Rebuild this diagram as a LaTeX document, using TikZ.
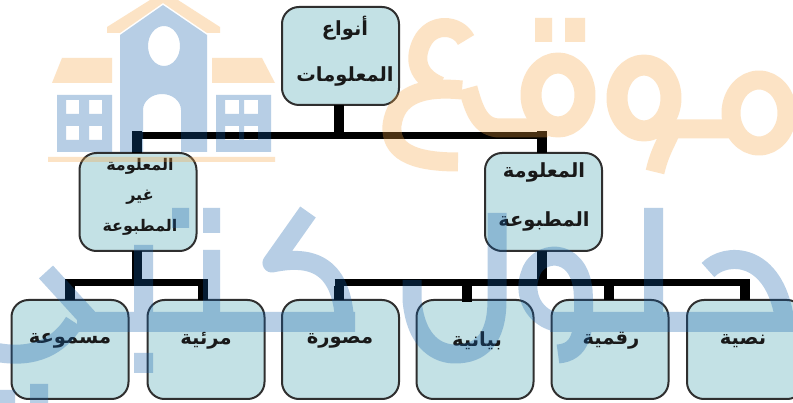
\documentclass[tikz,border=0pt]{standalone}
\usepackage{fontspec}
\TeXXeTstate=1
\newfontfamily\arabicfont[Script=Arabic,BoldFont={DejaVu Sans Bold}]{DejaVu Sans}
\definecolor{boxfill}{HTML}{C3E1E5}
\definecolor{boxline}{HTML}{2F2F2F}
\definecolor{wmblue}{HTML}{125FAC}
\definecolor{wmorange}{HTML}{F8A541}
\tikzset{
  boxnode/.style={draw=boxline,line width=2pt,fill=boxfill,rounded corners=17pt,minimum width=117pt,minimum height=98pt,inner sep=0pt,outer sep=0pt},
  lowbox/.style={boxnode,minimum height=99pt},
  wordnode/.style={text=black!90,font=\arabicfont\bfseries\fontsize{19.5}{19.5}\selectfont,inner sep=0pt},
  smallword/.style={wordnode,font=\arabicfont\bfseries\fontsize{16}{16}\selectfont},
  trunk/.style={draw=black,line width=9.5pt},
  bus/.style={draw=black,line width=7pt,line join=miter},
  wmo/.style={draw=wmorange,line width=19pt,line cap=butt,line join=round},
  wmb/.style={draw=wmblue,line width=19pt,line cap=butt,line join=round}
}
\newcommand{\ar}[1]{\beginR #1\endR}
\begin{document}
\begin{tikzpicture}[x=1pt,y=-1pt]
\useasboundingbox (0,0) rectangle (793,403);
\clip (0,0) rectangle (793,403);
\fill[white] (0,0) rectangle (793,403);
% boxes
\node[boxnode] (top) at (340.5,56) {};
\node[boxnode] (mleft) at (138,202) {};
\node[boxnode] (mright) at (543.5,202) {};
\node[lowbox] (b1) at (70,349.5) {};
\node[lowbox] (b2) at (206,349.5) {};
\node[lowbox] (b3) at (340.5,349.5) {};
\node[lowbox] (b4) at (475,349.5) {};
\node[lowbox] (b5) at (610,349.5) {};
\node[lowbox] (b6) at (745.5,349.5) {};
% junctions
\coordinate (j0) at (339,135.5);
\coordinate (j1) at (137,283);
\coordinate (j2) at (542,283);
% connectors
\draw[trunk] ([xshift=-1.5pt]top.south) -- (j0);
\draw[bus] ([xshift=-5.5pt]mleft.north |- j0) -- (j0) -- ([xshift=3.5pt]mright.north |- j0);
\draw[trunk] ([xshift=-1pt]mleft.north) -- +(0,-21.5);
\draw[trunk] ([xshift=-1.5pt]mright.north) -- +(0,-21.5);
\draw[trunk] ([xshift=-1pt]mleft.south) -- (j1);
\draw[trunk] ([xshift=-1.5pt]mright.south) -- (j2);
\draw[bus] ([xshift=-5pt]b1.north |- j1) -- ([xshift=2pt]b2.north |- j1);
\draw[bus] ([xshift=-6pt]b3.north |- j2) -- ([xshift=4pt]b6.north |- j2);
\draw[trunk] (b1.north) -- ([yshift=-3.5pt]b1.north |- j1);
\draw[trunk] ([xshift=-3pt]b2.north) -- ([xshift=-3pt,yshift=-3.5pt]b2.north |- j1);
\draw[trunk] ([xshift=-1.5pt]b3.north) -- ([xshift=-1.5pt,yshift=-3.5pt]b3.north |- j1);
\draw[trunk] ([xshift=-8pt,yshift=-2pt]b4.north) -- ([xshift=-8pt,yshift=-3.5pt]b4.north |- j1);
\draw[trunk] ([xshift=-1pt]b5.north) -- ([xshift=-1pt,yshift=-3.5pt]b5.north |- j1);
\draw[trunk] ([xshift=-0.5pt]b6.north) -- ([xshift=-0.5pt,yshift=-3.5pt]b6.north |- j1);
% texts
\node[wordnode] (t0a) at (345,28) {\ar{أنواع}};
\node[wordnode] (t0b) at (345,76) {\ar{المعلومات}};
\node[smallword] (t1a) at (140,166) {\ar{المعلومة}};
\node[smallword] (t1b) at (140,197) {\ar{غير}};
\node[smallword] (t1c) at (140,227) {\ar{المطبوعة}};
\node[wordnode] (t2a) at (544,172) {\ar{المعلومة}};
\node[wordnode] (t2b) at (544,221) {\ar{المطبوعة}};
\node[wordnode] (t3) at (70,341) {\ar{مسموعة}};
\node[wordnode] (t4) at (206,341) {\ar{مرئية}};
\node[wordnode] (t5) at (340,341) {\ar{مصورة}};
\node[wordnode] (t6) at (477,341) {\ar{بيانية}};
\node[wordnode] (t7) at (611,341) {\ar{رقمية}};
\node[wordnode] (t8) at (743,341) {\ar{نصية}};
% watermark
\begin{scope}[transparency group,opacity=0.3]
 % building - orange
 \fill[wmorange] (107,27) -- (150,0) -- (178,0) -- (220,27) -- (220,33) -- (207,33) -- (163,3) -- (120,33) -- (107,33) -- cycle;
 \fill[wmorange] (52,83) -- (62,58) -- (112,58) -- (112,83) -- cycle;
 \fill[wmorange] (212,58) -- (262,58) -- (275,83) -- (212,83) -- cycle;
 \fill[wmorange] (48,157) rectangle (275,162);
 % building - blue
 \fill[wmblue,even odd rule] (120,152) -- (120,35) -- (163,5) -- (207,35) -- (207,152) -- (181,152) -- (181,110) arc (0:-180:19 and 16) -- (143,152) -- cycle
   (180,46) arc (0:360:16 and 20);
 \fill[wmblue,even odd rule] (57,95) rectangle (112,152)
   (66,100) rectangle (79,114) (89,100) rectangle (102,114)
   (66,126) rectangle (79,140) (89,126) rectangle (102,140);
 \fill[wmblue,even odd rule] (216,95) rectangle (271,152)
   (225,100) rectangle (239,114) (244,100) rectangle (258,114)
   (225,126) rectangle (239,140) (244,126) rectangle (258,140);
 % orange letters
 \draw[wmo] (466,40) .. controls (458,24) and (432,22) .. (422,42) .. controls (414,58) and (416,76) .. (440,86);
 \draw[wmo] (462,90) .. controls (420,86) and (396,96) .. (392,125) .. controls (390,150) and (410,162) .. (458,162);
 \draw[wmo] (468,88) .. controls (474,110) and (480,128) .. (500,128) -- (548,128);
 \draw[wmo,line width=21pt] (558,95) ellipse (27 and 32);
 \fill[wmorange] (535,18) rectangle (552,42) (565,18) rectangle (585,42);
 \draw[wmo,line width=21pt] (644,98) ellipse (27 and 33);
 \draw[wmo] (672,128) .. controls (668,140) and (660,150) .. (655,172);
 \draw[wmo] (665,129) -- (735,129);
 \draw[wmo] (759,113) ellipse (28 and 33);
 % blue letters
 \fill[wmblue] (77,312) rectangle (355,332);
 \fill[wmblue] (550,312) rectangle (793,332);
 \draw[wmb] (308,212) -- (272,263) .. controls (310,255) and (345,262) .. (345,332);
 \fill[wmblue] (203,250) rectangle (220,322) (203,208) rectangle (220,233);
 \fill[wmblue] (134,245) rectangle (153,322);
 \fill[wmblue] (172,208) rectangle (189,228) (134,353) rectangle (153,373);
 \draw[wmb] (46,272) -- (88,318);
 \draw[wmb] (74,322) .. controls (60,345) and (35,360) .. (-5,352);
 \fill[wmblue] (30,384) rectangle (48,403) (0,390) rectangle (15,403);
 \draw[wmb] (412,280) -- (412,300) .. controls (416,345) and (440,354) .. (455,354) .. controls (480,354) and (497,340) .. (497,300) -- (497,213);
 \draw[wmb] (555,322) .. controls (530,315) and (524,290) .. (530,275) .. controls (536,250) and (578,245) .. (583,290) .. controls (586,335) and (580,352) .. (558,354);
 \fill[wmblue] (644,208) rectangle (663,322);
 \draw[wmb] (708,270) .. controls (725,252) and (775,250) .. (785,322);
\end{scope}
\end{tikzpicture}
\end{document}
